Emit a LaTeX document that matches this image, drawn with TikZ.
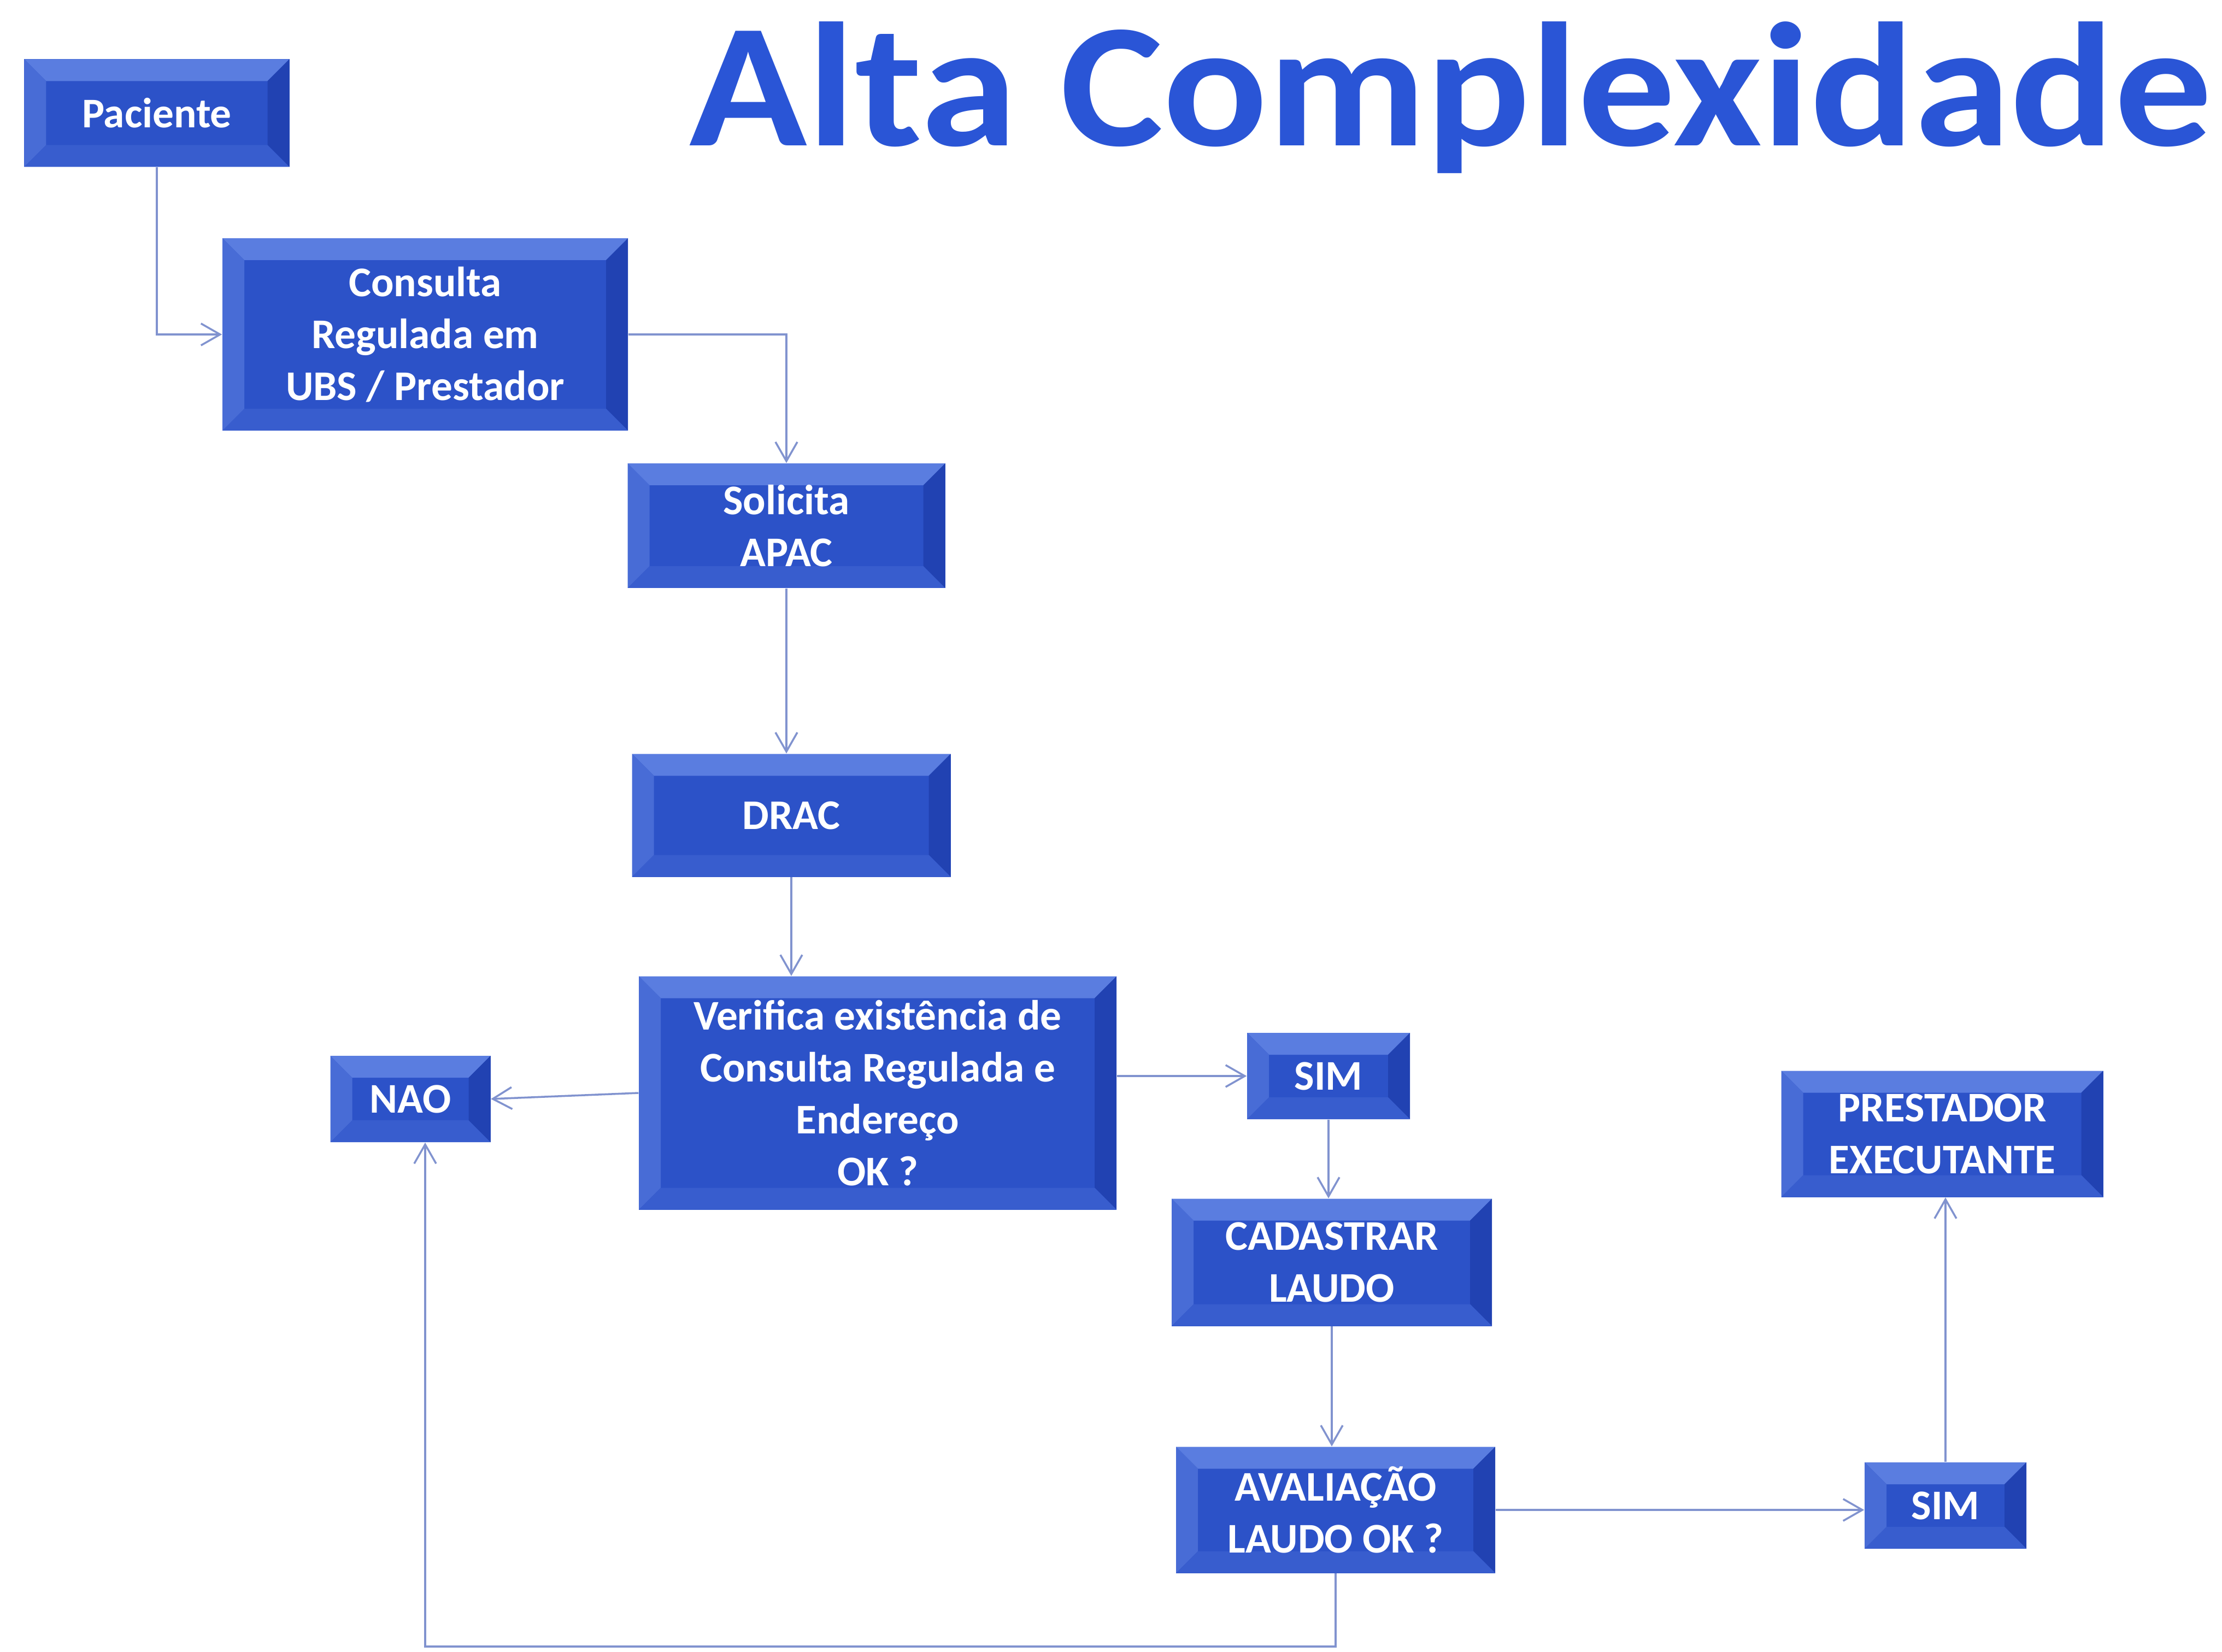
\documentclass[tikz,border=0pt]{standalone}
\usepackage{fontspec}
\setmainfont{Carlito}
\usetikzlibrary{arrows.meta}
\definecolor{azul}{HTML}{2C52C8}
\definecolor{azulclaro}{HTML}{5A7DE0}
\definecolor{azulescuro}{HTML}{2142B2}
\definecolor{linha}{HTML}{8193CF}
\definecolor{titulo}{HTML}{2A55D6}
\newcommand{\bev}{0.4cm}
\tikzset{
 caixa/.style={rectangle, fill=azul, text=white, align=center, inner sep=0pt,
  font=\fontsize{22}{27}\selectfont\bfseries,
  path picture={
   \fill[azulclaro] (path picture bounding box.north west) -- (path picture bounding box.north east)
     -- ([xshift=-\bev,yshift=-\bev]path picture bounding box.north east)
     -- ([xshift=\bev,yshift=-\bev]path picture bounding box.north west) -- cycle;
   \fill[azulclaro!60!azul] (path picture bounding box.north west) -- (path picture bounding box.south west)
     -- ([xshift=\bev,yshift=\bev]path picture bounding box.south west)
     -- ([xshift=\bev,yshift=-\bev]path picture bounding box.north west) -- cycle;
   \fill[azulescuro] (path picture bounding box.north east) -- (path picture bounding box.south east)
     -- ([xshift=-\bev,yshift=\bev]path picture bounding box.south east)
     -- ([xshift=-\bev,yshift=-\bev]path picture bounding box.north east) -- cycle;
   \fill[azul!75!azulclaro] (path picture bounding box.south west) -- (path picture bounding box.south east)
     -- ([xshift=-\bev,yshift=\bev]path picture bounding box.south east)
     -- ([xshift=\bev,yshift=\bev]path picture bounding box.south west) -- cycle;
  }},
 liga/.style={-{Straight Barb[length=3.5mm,width=4mm]}, draw=linha, line width=1pt}
}
\begin{document}
\begin{tikzpicture}
 \useasboundingbox[fill=white] (0,0) rectangle (40.66,-30.23);
 \node[anchor=base, xscale=1.1, text=titulo, font=\fontsize{92}{110}\selectfont\bfseries] (titulo) at (26.55,-2.67) {Alta Complexidade};
 %
 \node[caixa, minimum width=4.85cm, minimum height=1.97cm] (pac) at (2.87,-2.07) {Paciente};
 \node[caixa, minimum width=7.42cm, minimum height=3.52cm] (cons) at (7.78,-6.12) {Consulta\\Regulada em\\UBS / Prestador};
 \node[caixa, minimum width=5.81cm, minimum height=2.28cm] (sol) at (14.39,-9.62) {Solicita\\APAC};
 \node[caixa, minimum width=5.83cm, minimum height=2.25cm] (drac) at (14.48,-14.92) {DRAC};
 \node[caixa, minimum width=8.74cm, minimum height=4.27cm] (ver) at (16.06,-20.00) {Verifica existência de\\Consulta Regulada e\\Endereço\\OK ?};
 \node[caixa, minimum width=2.93cm, minimum height=1.58cm] (nao) at (7.51,-20.11) {NAO};
 \node[caixa, minimum width=2.98cm, minimum height=1.58cm] (sim1) at (24.31,-19.69) {SIM};
 \node[caixa, minimum width=5.86cm, minimum height=2.33cm] (cad) at (24.37,-23.10) {CADASTRAR\\LAUDO};
 \node[caixa, minimum width=5.84cm, minimum height=2.31cm] (aval) at (24.44,-27.63) {AVALIAÇÃO\\LAUDO OK ?};
 \node[caixa, minimum width=2.96cm, minimum height=1.58cm] (sim2) at (35.60,-27.55) {SIM};
 \node[caixa, minimum width=5.89cm, minimum height=2.31cm] (prest) at (35.54,-20.75) {PRESTADOR\\EXECUTANTE};
 %
 \draw[liga] (pac.south) |- (cons.west);
 \draw[liga] (cons.east) -| (sol.north);
 \draw[liga] (sol.south) -- (sol.south |- drac.north);
 \draw[liga] (drac.south) -- (drac.south |- ver.north);
 \draw[liga] (ver.west) -- (nao.east);
 \draw[liga] (sim1.west -| ver.east) -- (sim1.west);
 \draw[liga] (sim1.south) -- (sim1.south |- cad.north);
 \draw[liga] (cad.south) -- (cad.south |- aval.north);
 \draw[liga] (aval.east) -- (sim2.west |- aval.east);
 \draw[liga] (sim2.north) -- (sim2.north |- prest.south);
 %
 \coordinate (volta) at (7.78,-30.13);
 \draw[liga] (aval.south) |- (volta) -- (volta |- nao.south);
\end{tikzpicture}
\end{document}
